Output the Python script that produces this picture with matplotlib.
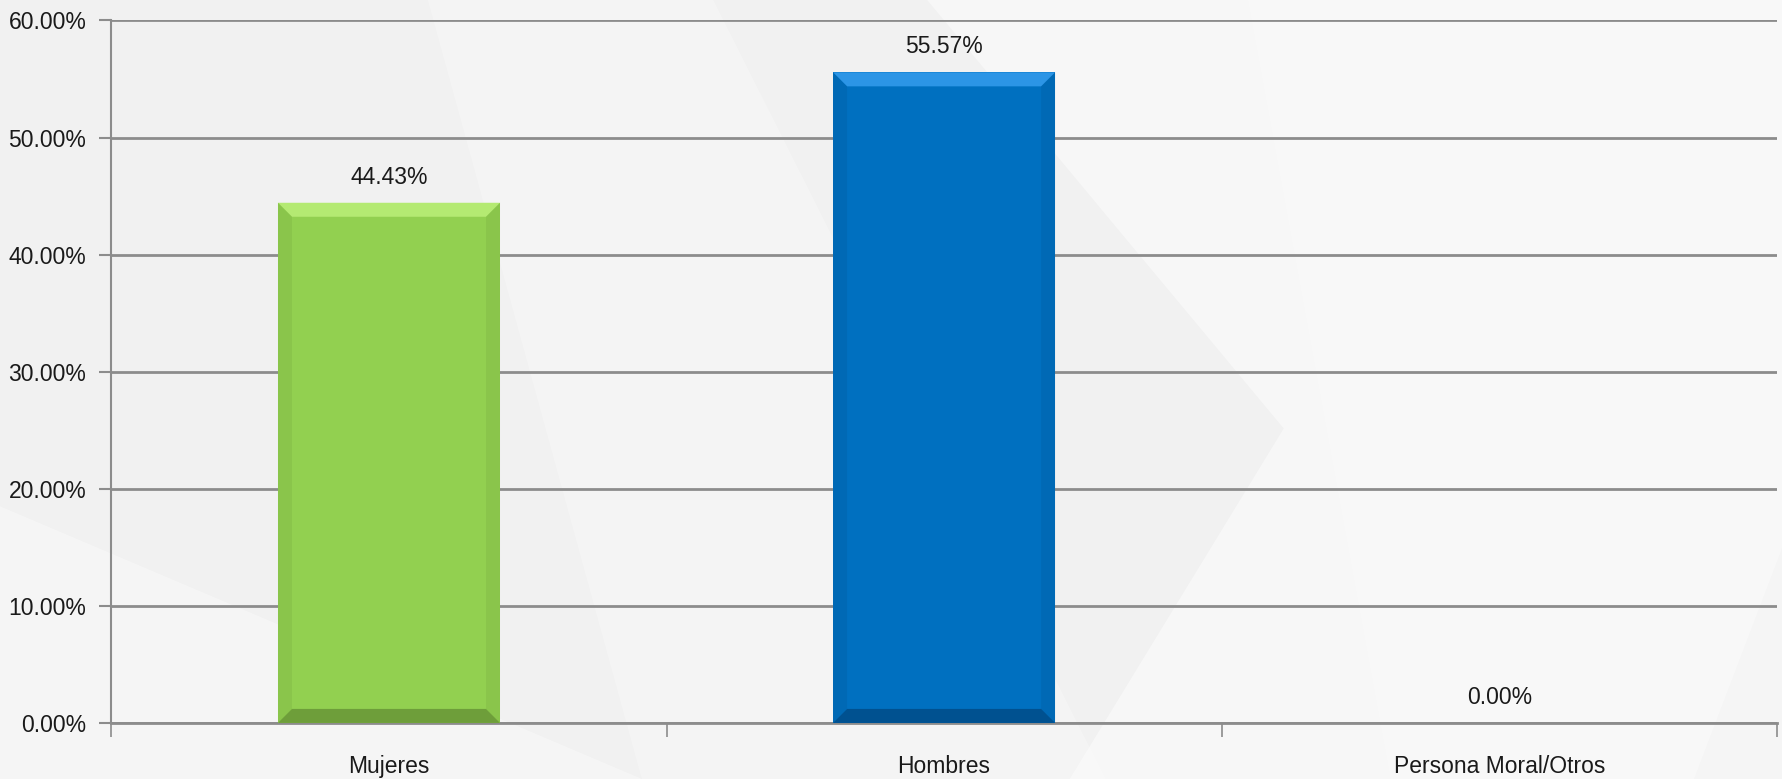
import numpy as np
import matplotlib.pyplot as plt
from matplotlib.patches import Polygon
from matplotlib.ticker import FuncFormatter, FixedLocator

plt.rcParams['font.family'] = ['Liberation Sans', 'DejaVu Sans']
plt.rcParams['font.size'] = 16

# data
categories = ['Mujeres', 'Hombres', 'Persona Moral/Otros']
values = [44.43, 55.57, 0.00]
colors = ['#92D050', '#0070C0', '#7F7F7F']
light = ['#B4EA72', '#2C95E6', '#A0A0A0']
dark = ['#6E9E3A', '#005190', '#606060']
y_ticks = [0, 10, 20, 30, 40, 50, 60]

fig = plt.figure(figsize=(17.83, 7.79), dpi=100)
fig.patch.set_facecolor('#F1F1F1')

# soft background shapes
bg = fig.add_axes([0, 0, 1, 1], zorder=-10)
bg.set_xlim(0, 1)
bg.set_ylim(0, 1)
bg.axis('off')
bg.add_patch(Polygon([[0.0, 0.0], [0.0, 0.35], [0.36, 0.0]], color='white', alpha=0.35, lw=0))
bg.add_patch(Polygon([[0.24, 1.0], [0.36, 0.0], [0.62, 0.0], [0.40, 1.0]], color='#F7F7F7', alpha=0.6, lw=0))
bg.add_patch(Polygon([[0.52, 1.0], [0.72, 0.45], [0.60, 0.0], [0.95, 0.0], [1.0, 0.3], [1.0, 1.0]], color='white', alpha=0.45, lw=0))
bg.add_patch(Polygon([[0.70, 1.0], [0.78, 0.0], [1.0, 0.0], [1.0, 1.0]], color='#FAFAFA', alpha=0.5, lw=0))

ax = fig.add_axes([0.0625, 0.072, 0.934, 0.9017])
ax.patch.set_alpha(0)

x = np.arange(len(categories))
width = 0.4
ax.bar(x, values, width=width, color=colors, zorder=3)

ax.set_xlim(-0.5, len(categories) - 0.5)
ax.set_ylim(0, 60)

# bevel on bars
fig.canvas.draw()
bbox = ax.get_window_extent()
px_x = (len(categories)) / bbox.width
px_y = 60 / bbox.height
bev = 14
for xi, v, lc, dc in zip(x, values, light, dark):
    if v <= 0:
        continue
    l, r = xi - width / 2, xi + width / 2
    dx, dy = bev * px_x, bev * px_y
    ax.add_patch(Polygon([[l, v], [r, v], [r - dx, v - dy], [l + dx, v - dy]],
                         color=lc, lw=0, zorder=4))
    ax.add_patch(Polygon([[l, 0], [r, 0], [r - dx, dy], [l + dx, dy]],
                         color=dc, lw=0, zorder=4))
    ax.add_patch(Polygon([[l, 0], [l + dx, dy], [l + dx, v - dy], [l, v]],
                         color=dc, alpha=0.22, lw=0, zorder=4))
    ax.add_patch(Polygon([[r, 0], [r - dx, dy], [r - dx, v - dy], [r, v]],
                         color=dc, alpha=0.22, lw=0, zorder=4))

for xi, v in zip(x, values):
    ax.annotate(f'{v:.2f}%', (xi, v), xytext=(0, 10), textcoords='offset points',
                ha='center', va='bottom', fontsize=16.5, color='#1A1A1A')

ax.set_yticks(y_ticks)
ax.yaxis.set_major_formatter(FuncFormatter(lambda v, p: f'{v:.2f}%'))
ax.yaxis.grid(True, color='#8C8C8C', lw=2, zorder=1)
ax.set_axisbelow(True)

ax.set_xticks(x)
ax.set_xticklabels(categories)
ax.xaxis.set_minor_locator(FixedLocator(np.arange(-0.5, len(categories), 1.0)))
ax.tick_params(axis='x', which='major', length=0, pad=23, labelsize=16.5, labelcolor='#1A1A1A')
ax.tick_params(axis='x', which='minor', length=10, width=1.2, color='#8C8C8C', direction='out')
ax.tick_params(axis='y', length=9, width=1.5, color='#8C8C8C', pad=9, labelsize=16.5,
               labelcolor='#1A1A1A')

for s in ['top', 'right']:
    ax.spines[s].set_visible(False)
ax.spines['left'].set_color('#8C8C8C')
ax.spines['left'].set_linewidth(1.5)
ax.spines['bottom'].set_color('#8C8C8C')
ax.spines['bottom'].set_linewidth(2)

fig.savefig('out.png', dpi=100, facecolor=fig.get_facecolor())
